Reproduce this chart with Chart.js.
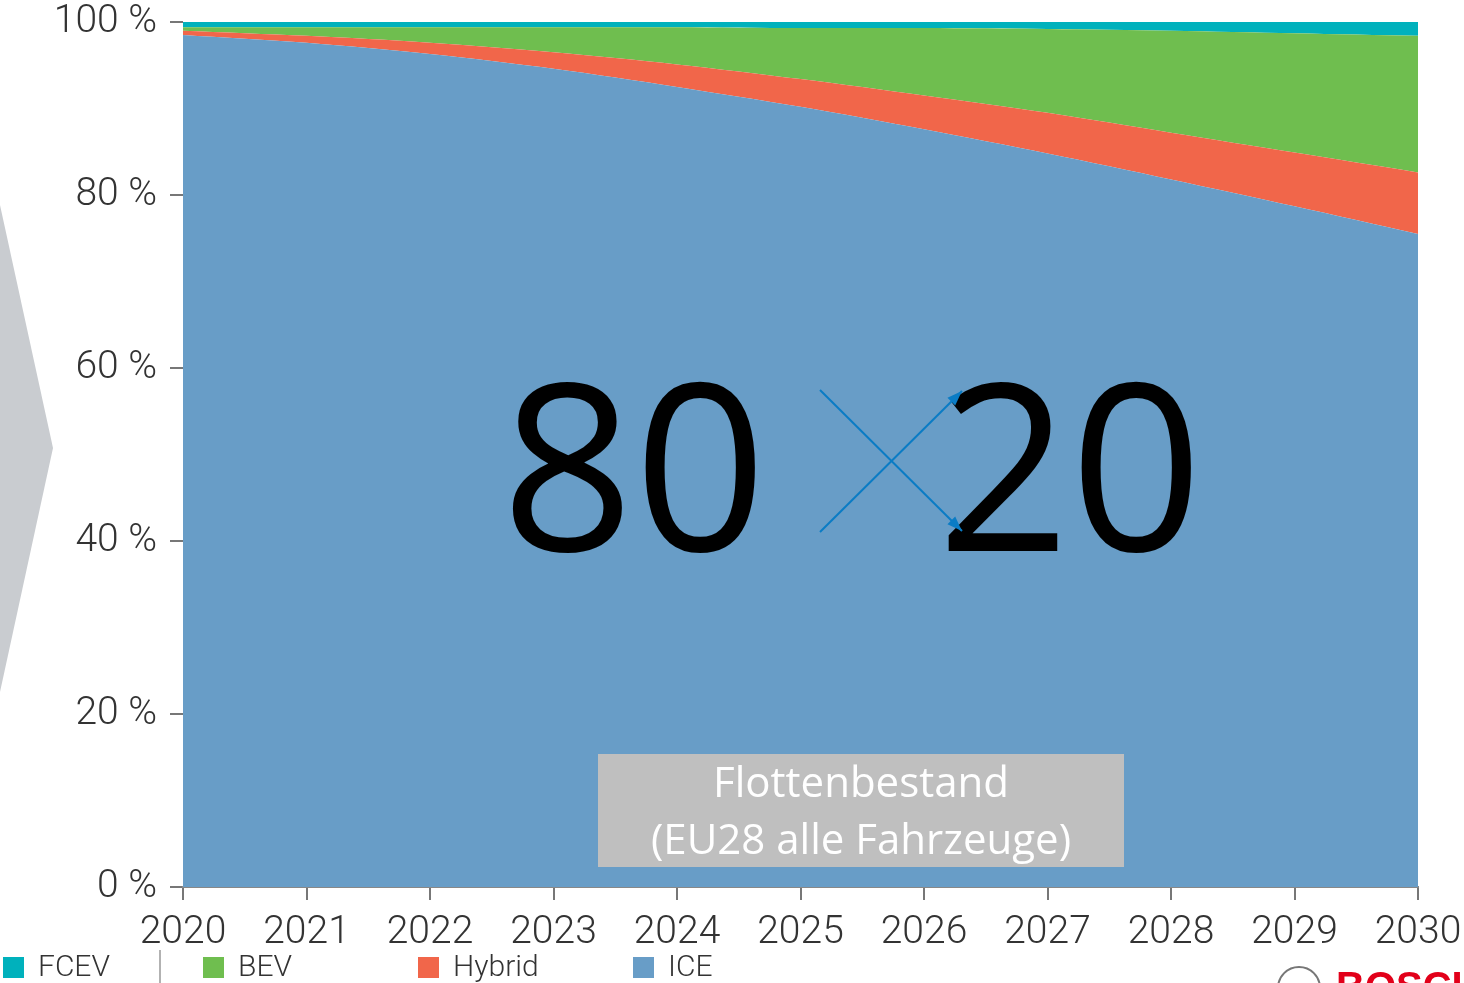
<!DOCTYPE html>
<html>
<head>
<meta charset="utf-8">
<script src="https://cdn.jsdelivr.net/npm/chart.js@4"></script>
<style>
  html, body { margin: 0; padding: 0; background: #fff; }
  #wrap { width: 1464px; height: 983px; position: relative; }
</style>
</head>
<body>
<div id="wrap"><canvas id="fleetChart"></canvas></div>
<script>
const years = ['2020', '2021', '2022', '2023', '2024', '2025', '2026', '2027', '2028', '2029', '2030'];
const yTicks = [0, 20, 40, 60, 80, 100];

// Anteile in %, von unten nach oben gestapelt
const iceShare = [98.5, 97.6, 96.3, 94.6, 92.5, 90.2, 87.6, 84.8, 81.8, 78.7, 75.5];
const hybridShare = [0.5, 0.8, 1.3, 1.9, 2.6, 3.2, 3.9, 4.7, 5.4, 6.2, 7.1];
const bevShare = [0.4, 1.0, 1.8, 2.9, 4.3, 5.9, 7.8, 9.7, 11.8, 13.8, 15.8];
const fcevShare = [0.6, 0.6, 0.6, 0.6, 0.6, 0.7, 0.7, 0.8, 1.0, 1.3, 1.6];

const legendItems = [
    { label: 'FCEV', color: '#00b1bc' },
    { label: 'BEV', color: '#6fbe4f' },
    { label: 'Hybrid', color: '#f1664a' },
    { label: 'ICE', color: '#689dc7' }
];

// Zusätzliche Grafik: Pfeil links, "80 / 20", Textbox, Legende, Logo
const decorations = {
    id: 'decorations',
    beforeDraw(chart) {
        const ctx = chart.ctx;
        ctx.save();
        ctx.fillStyle = '#c9ccd0';
        ctx.beginPath();
        ctx.moveTo(0, 205);
        ctx.lineTo(53, 448);
        ctx.lineTo(0, 692);
        ctx.closePath();
        ctx.fill();
        ctx.restore();
    },
    afterDraw(chart) {
        const ctx = chart.ctx;
        ctx.save();

        // 80 x 20
        ctx.fillStyle = '#000';
        ctx.font = '232px "Open Sans"';
        ctx.textBaseline = 'alphabetic';
        ctx.textAlign = 'center';
        ctx.fillText('80', 634, 551);
        ctx.fillText('20', 1070, 551);

        ctx.strokeStyle = '#0a7cc5';
        ctx.fillStyle = '#0a7cc5';
        ctx.lineWidth = 2;
        const arrow = (x1, y1, x2, y2) => {
            ctx.beginPath();
            ctx.moveTo(x1, y1);
            ctx.lineTo(x2, y2);
            ctx.stroke();
            const a = Math.atan2(y2 - y1, x2 - x1);
            ctx.beginPath();
            ctx.moveTo(x2, y2);
            ctx.lineTo(x2 - 16 * Math.cos(a - 0.35), y2 - 16 * Math.sin(a - 0.35));
            ctx.lineTo(x2 - 16 * Math.cos(a + 0.35), y2 - 16 * Math.sin(a + 0.35));
            ctx.closePath();
            ctx.fill();
        };
        arrow(820, 532, 962, 391);
        arrow(820, 390, 962, 531);

        // Textbox
        ctx.fillStyle = '#bfbfbf';
        ctx.fillRect(598, 754, 526, 113);
        ctx.fillStyle = '#fff';
        ctx.font = '42px "Open Sans"';
        ctx.fillText('Flottenbestand', 861, 797);
        ctx.fillText('(EU28 alle Fahrzeuge)', 861, 854);

        // Legende
        ctx.textAlign = 'left';
        ctx.textBaseline = 'middle';
        ctx.font = '300 30px Roboto';
        const legendX = [3, 203, 418, 633];
        legendItems.forEach((item, i) => {
            ctx.fillStyle = item.color;
            ctx.fillRect(legendX[i], 957, 21, 21);
            ctx.fillStyle = '#333';
            ctx.fillText(item.label, legendX[i] + 35, 968);
        });
        ctx.strokeStyle = '#999';
        ctx.lineWidth = 1.5;
        ctx.beginPath();
        ctx.moveTo(160, 950);
        ctx.lineTo(160, 983);
        ctx.stroke();

        // Logo (unten abgeschnitten)
        ctx.strokeStyle = '#777';
        ctx.lineWidth = 2;
        ctx.beginPath();
        ctx.arc(1299, 988, 21, 0, Math.PI * 2);
        ctx.stroke();
        ctx.fillStyle = '#e2001a';
        ctx.font = 'bold 40px "Liberation Sans"';
        ctx.textBaseline = 'alphabetic';
        ctx.fillText('BOSCH', 1336, 1000);
        ctx.restore();
    }
};

const makeSet = (label, data, color) => ({
    label: label,
    data: data,
    backgroundColor: color,
    borderColor: color,
    borderWidth: 0,
    pointRadius: 0,
    tension: 0.3,
    fill: label === 'ICE' ? 'origin' : '-1'
});

const ctx = document.getElementById('fleetChart').getContext('2d');
new Chart(ctx, {
    type: 'line',
    data: {
        labels: years,
        datasets: [
            makeSet('ICE', iceShare, legendItems[3].color),
            makeSet('Hybrid', hybridShare, legendItems[2].color),
            makeSet('BEV', bevShare, legendItems[1].color),
            makeSet('FCEV', fcevShare, legendItems[0].color)
        ]
    },
    options: {
        responsive: true,
        maintainAspectRatio: false,
        animation: false,
        layout: { padding: { top: 22, right: 46, left: 0, bottom: 0 } },
        plugins: {
            legend: { display: false },
            tooltip: { enabled: false }
        },
        scales: {
            x: {
                offset: false,
                grid: { drawOnChartArea: false, tickLength: 13, color: '#777', lineWidth: 2 },
                border: { color: '#888', width: 2 },
                ticks: {
                    font: { family: 'Roboto', size: 39, weight: '300' },
                    color: '#333',
                    padding: 10,
                    maxRotation: 0,
                    autoSkip: false
                },
                afterFit: (scale) => {
                    scale.height = 96;
                    scale.paddingLeft = 0;
                    scale.paddingRight = 0;
                }
            },
            y: {
                stacked: true,
                min: 0,
                max: 100,
                afterBuildTicks: (scale) => { scale.ticks = yTicks.map(v => ({ value: v })); },
                grid: { drawOnChartArea: false, tickLength: 13, color: '#777', lineWidth: 2 },
                border: { display: false },
                ticks: {
                    font: { family: 'Roboto', size: 39, weight: '300' },
                    color: '#333',
                    padding: 13,
                    callback: (v) => v + ' %'
                },
                afterFit: (scale) => {
                    scale.width = 183;
                    scale.paddingTop = 0;
                    scale.paddingBottom = 0;
                }
            }
        }
    },
    plugins: [decorations]
});
</script>
</body>
</html>
